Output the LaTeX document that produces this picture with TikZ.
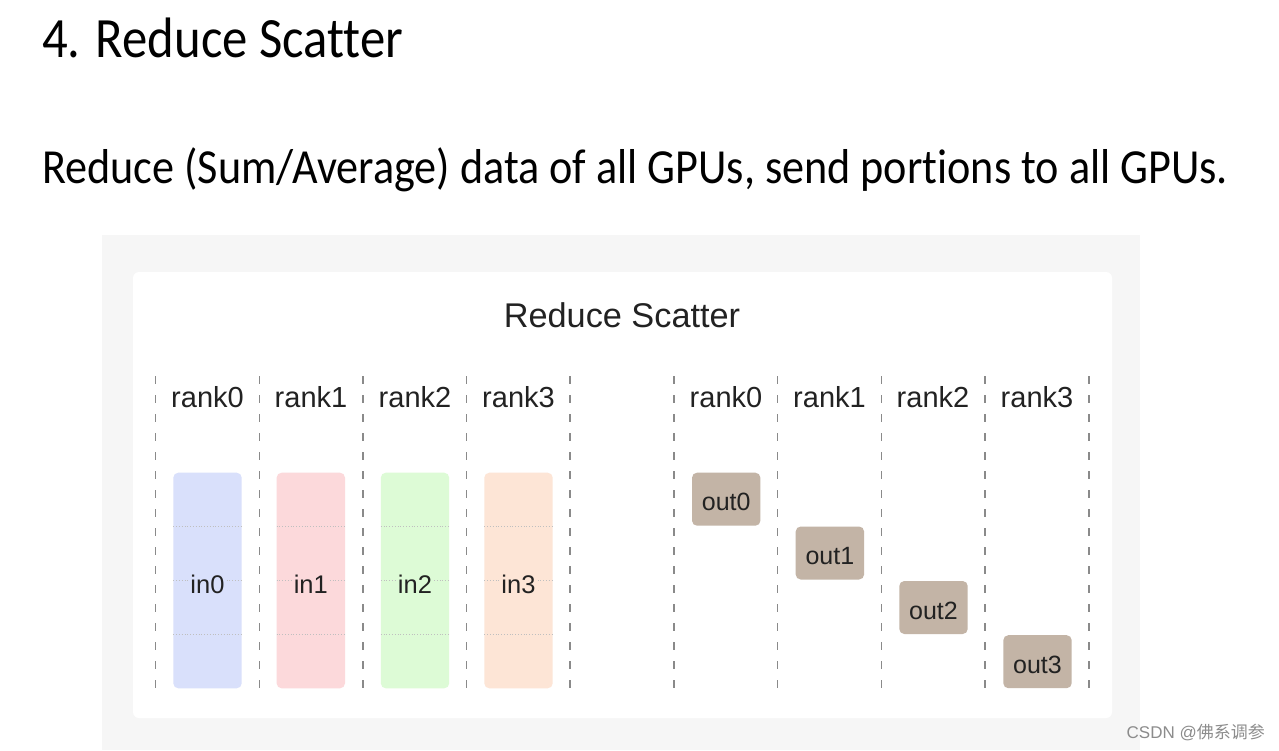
\documentclass[tikz,border=0pt]{standalone}
\usepackage{fontspec}
\setmainfont{Liberation Sans}
\newfontfamily\headfont[FakeStretch=0.89, Ligatures={NoCommon}]{Carlito}
\newfontfamily\subfont[FakeStretch=0.902, Ligatures={NoCommon}]{Carlito}
\newfontfamily\cjkfont{Noto Sans CJK SC}
\definecolor{inblue}{HTML}{D9E0FB}
\definecolor{inpink}{HTML}{FCD9DB}
\definecolor{ingreen}{HTML}{DDFBD6}
\definecolor{inpeach}{HTML}{FDE5D6}
\definecolor{outtan}{HTML}{C3B4A6}
\definecolor{panelgray}{HTML}{F6F6F6}
\definecolor{dashgray}{HTML}{8A8A8A}
\definecolor{txt}{HTML}{222222}
\begin{document}
\begin{tikzpicture}[x=1pt,y=-1pt,
  dashline/.style={dashgray, line width=1.3pt, dash pattern=on 8pt off 11pt},
  ranklbl/.style={anchor=base, inner sep=0pt, text=txt, font=\fontsize{29}{32}\selectfont},
  inbox/.style={rounded corners=5pt, minimum width=68.4pt, minimum height=215.6pt, inner sep=0pt},
  dotline/.style={black!25, line width=0.8pt, dotted},
  inlbl/.style={inner sep=1pt, text=txt, font=\fontsize{25.5}{28}\selectfont},
  outbox/.style={rounded corners=5pt, fill=outtan, minimum width=68.4pt, minimum height=53pt, inner sep=0pt},
  outlbl/.style={inner sep=0pt, text=txt, font=\fontsize{25}{28}\selectfont}]
\useasboundingbox (0,0) rectangle (1279,750);
\fill[white] (0,0) rectangle (1279,750);
\node[anchor=base west, inner sep=0pt, font=\headfont\fontsize{57}{60}\selectfont] (title) at (42,57) {4. Reduce Scatter};
\node[anchor=base west, inner sep=0pt, font=\subfont\fontsize{49}{52}\selectfont] (sub) at (42,183) {Reduce (Sum/Average) data of all GPUs, send portions to all GPUs.};
\fill[panelgray] (102,235) rectangle (1140,750);
\fill[white, rounded corners=6pt] (133,272) rectangle (1112,718);
\node[anchor=base, inner sep=0pt, text=txt, font=\fontsize{34.3}{37}\selectfont] (dtitle) at (622,327) {Reduce Scatter};
\foreach \x in {155.7,259.3,363,466.7,570,674,777.7,881.3,985,1089}
  \draw[dashline] (\x,376) -- (\x,690);
\foreach \i/\x in {0/207.5,1/311,2/415,3/518.5}
  \node[ranklbl] (rl\i) at (\x,407) {rank\i};
\foreach \i/\x in {0/726,1/829.5,2/933,3/1037}
  \node[ranklbl] (rr\i) at (\x,407) {rank\i};
\foreach \i/\x/\c in {0/207.5/inblue,1/310.8/inpink,2/415/ingreen,3/518.5/inpeach}{
  \node[inbox, fill=\c] (in\i) at (\x,580.5) {};
  \draw[dotline] (\x-34.2,526) -- (\x+34.2,526);
  \draw[dotline] (\x-34.2,580.5) -- (\x+34.2,580.5);
  \draw[dotline] (\x-34.2,634.5) -- (\x+34.2,634.5);
  \node[inlbl, fill=\c] (lin\i) at (\x,584) {in\i};
}
\foreach \i/\x/\y in {0/726.2/499.2,1/829.9/553,2/933.5/607.5,3/1037.5/661.7}{
  \node[outbox] (out\i) at (\x,\y) {};
  \node[outlbl] (lout\i) at (\x,\y+3) {out\i};
}
\node[anchor=base east, inner sep=0pt, text=black!45, font=\fontsize{17}{20}\selectfont] (wm) at (1265,738) {CSDN @{\cjkfont 佛系调参}};
\end{tikzpicture}
\end{document}
